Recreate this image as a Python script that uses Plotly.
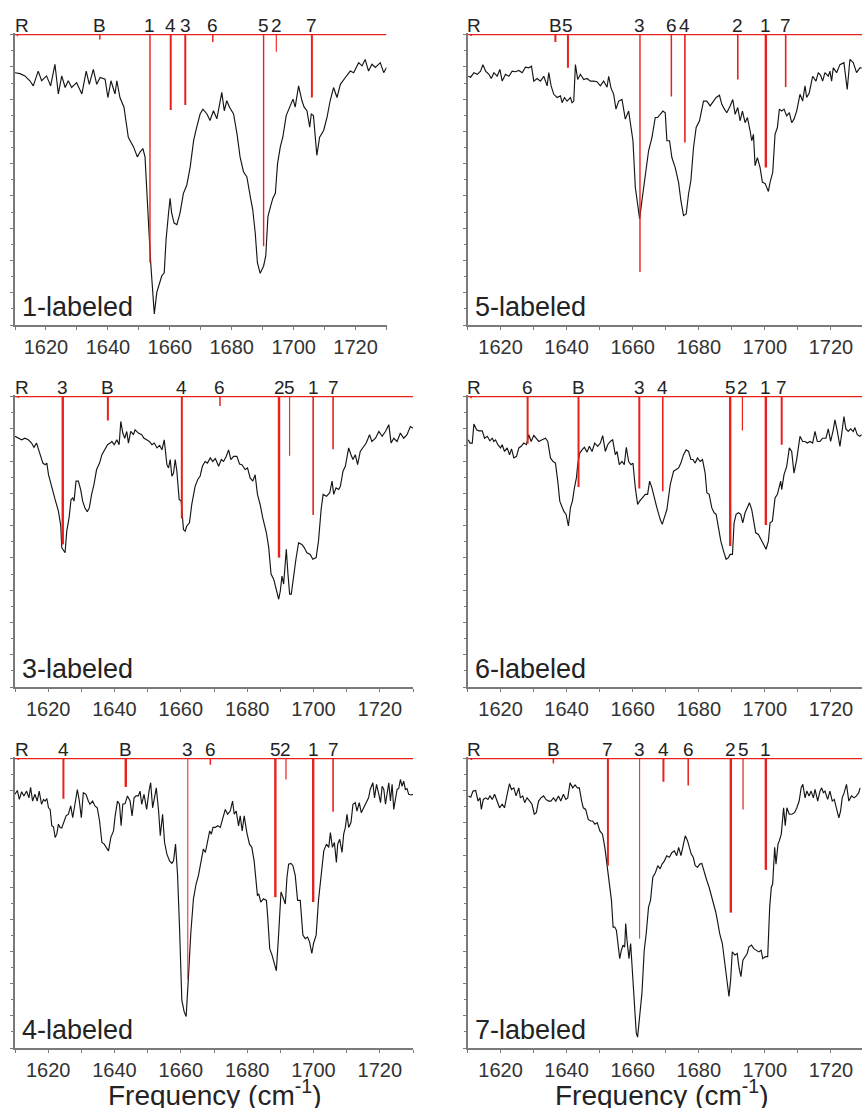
import plotly.graph_objects as go

# ---------------- data (frequency in cm-1, signal depth below the top baseline, a.u.) -------------
p1_freq = [1610.0,1611.6,1613.2,1614.8,1615.9,1617.5,1618.6,1620.2,1621.5,1622.9,
 1624.0,1625.1,1626.2,1627.2,1628.3,1629.9,1631.6,1633.0,1634.0,1635.3,
 1636.4,1637.5,1639.1,1640.0,1641.0,1642.3,1642.9,1643.9,1645.2,1646.6,
 1648.3,1649.5,1650.4,1651.3,1652.0,1652.6,1653.3,1653.9,1654.5,1655.0,
 1655.8,1656.7,1657.4,1658.2,1658.8,1659.6,1660.1,1660.6,1661.4,1662.3,
 1663.3,1664.4,1665.5,1666.6,1667.7,1668.7,1669.8,1670.7,1672.0,1673.0,
 1674.1,1675.2,1676.3,1676.8,1677.6,1678.4,1679.3,1680.0,1680.6,1681.7,
 1682.7,1683.8,1684.9,1686.0,1686.8,1687.6,1688.3,1689.2,1690.3,1691.0,
 1691.7,1692.4,1693.3,1694.1,1694.8,1695.7,1696.5,1697.6,1698.7,1699.8,
 1700.5,1701.6,1702.7,1703.4,1704.3,1705.2,1705.7,1706.4,1707.5,1708.4,
 1709.7,1710.8,1711.8,1712.9,1714.0,1715.1,1716.7,1718.3,1719.4,1721.0,
 1722.1,1723.1,1724.2,1725.3,1726.4,1728.0,1729.1,1730.0]
p1_signal = [1.18,1.21,1.28,1.43,1.59,1.13,1.43,1.28,1.59,0.92,
 1.84,1.28,1.64,1.43,1.64,1.49,1.84,1.13,1.54,1.08,
 1.54,1.33,1.38,1.95,1.43,1.84,1.43,1.95,2.25,3.18,
 3.48,3.79,3.64,3.53,3.79,4.71,6.15,7.17,8.20,8.66,
 7.99,7.68,7.48,7.38,6.35,5.53,5.07,5.53,5.84,5.89,
 5.53,4.92,4.66,4.10,3.28,2.87,2.46,2.31,2.46,2.66,
 2.36,2.61,2.05,1.79,2.36,2.05,2.25,2.36,2.46,3.07,
 3.79,4.25,4.41,5.02,5.43,6.15,7.07,7.40,7.17,6.86,
 5.64,5.38,5.07,4.92,4.00,3.48,3.18,2.51,2.25,2.00,
 2.25,1.59,2.05,2.25,2.36,2.87,2.46,2.51,3.74,3.18,
 2.97,2.56,2.05,1.64,1.95,1.54,1.33,1.13,1.18,0.87,
 0.97,0.77,1.13,0.92,1.02,0.87,1.18,1.02]
p1_stick_lbl = ["R", "B", "1", "4", "3", "6", "5", "2", "7"]
p1_stick_pos = [1610.8, 1637.4, 1653.6, 1660.3, 1665.0, 1673.9, 1690.3, 1694.4, 1705.9]
p1_stick_int = [0.05, 0.15, 7.07, 2.34, 2.18, 0.23, 6.56, 0.53, 1.95]

p2_freq = [1610.23,1610.94,1611.94,1612.95,1613.96,1614.66,1615.47,1616.48,1617.18,1617.99,
 1618.99,1619.80,1620.50,1621.51,1622.52,1623.52,1624.53,1625.54,1626.55,1627.55,
 1628.56,1629.37,1630.07,1631.08,1632.08,1633.09,1634.10,1634.60,1635.31,1636.11,
 1637.12,1638.13,1638.63,1639.34,1640.14,1641.15,1641.65,1642.16,1642.66,1643.36,
 1644.17,1645.18,1646.18,1647.19,1648.20,1649.20,1650.21,1651.22,1652.23,1652.73,
 1653.43,1654.24,1654.94,1655.75,1656.76,1657.76,1658.77,1659.27,1660.08,1660.79,
 1661.49,1662.09,1662.80,1663.81,1664.81,1665.82,1666.83,1667.53,1668.34,1669.14,
 1669.85,1670.35,1671.16,1671.86,1672.87,1673.88,1674.58,1675.39,1676.19,1676.90,
 1677.60,1678.41,1679.21,1680.22,1681.43,1682.44,1683.44,1684.25,1685.26,1686.26,
 1686.97,1687.77,1688.48,1689.49,1690.29,1691.00,1691.80,1692.51,1693.21,1694.02,
 1694.72,1695.53,1696.03,1696.54,1697.04,1697.74,1698.55,1699.26,1700.06,1701.07,
 1701.57,1702.38,1703.08,1703.79,1704.39,1705.10,1705.80,1706.61,1707.41,1708.12,
 1708.82,1709.63,1710.63,1711.44,1712.15,1712.65,1713.45,1714.46,1715.47,1716.17,
 1716.88,1717.48,1718.19,1719.19,1719.70,1720.20,1720.70,1721.71,1722.72,1723.93,
 1724.93,1725.74,1726.75,1727.75,1728.76,1729.27]
p2_signal = [1.29,1.32,1.18,1.23,1.13,0.93,1.13,1.23,1.36,1.18,
 1.29,1.08,1.44,1.23,1.29,1.13,1.15,1.11,1.18,1.01,
 1.03,0.98,1.44,1.36,1.44,1.29,1.59,1.18,1.59,1.85,
 1.95,1.90,2.11,1.95,2.06,1.95,2.11,2.06,0.93,1.39,
 1.23,1.39,1.36,1.44,1.44,1.46,1.59,1.44,1.63,1.29,
 1.65,1.85,2.31,2.06,2.01,2.62,2.37,2.67,3.29,4.73,
 5.35,5.71,5.14,4.42,3.60,3.19,2.57,2.57,2.47,2.37,
 2.42,3.29,3.29,3.81,4.12,4.58,5.14,5.61,5.56,4.94,
 4.53,3.50,2.88,2.67,2.06,2.06,2.21,2.11,1.95,1.88,
 2.16,2.31,2.42,2.21,2.01,2.47,2.26,2.67,2.37,2.73,
 2.57,2.98,3.29,3.09,4.06,3.81,4.12,4.58,4.61,4.86,
 4.58,4.27,3.09,2.88,2.31,2.37,2.31,2.52,2.42,2.73,
 2.62,2.37,1.85,2.06,1.59,1.95,1.80,1.29,1.44,1.18,
 1.26,1.44,1.18,1.29,1.13,1.44,1.03,1.18,0.93,0.87,
 1.70,0.77,0.87,1.18,1.03,1.03]
p2_stick_lbl = ["R", "B", "5", "3", "6", "4", "2", "1", "7"]
p2_stick_pos = [1611.1, 1636.6, 1640.4, 1662.2, 1671.7, 1675.8, 1691.8, 1700.3, 1706.3]
p2_stick_int = [0.04, 0.23, 1.03, 7.36, 1.92, 3.34, 1.39, 4.12, 1.62]

p3_freq = [1610.0,1611.0,1612.0,1613.0,1614.0,1615.0,1615.7,1616.5,1617.5,1618.4,
 1619.1,1619.6,1620.1,1621.1,1622.1,1623.1,1623.8,1624.1,1624.6,1625.1,
 1625.6,1626.3,1626.9,1627.4,1627.8,1628.4,1629.1,1629.8,1630.4,1631.1,
 1631.8,1632.4,1633.1,1633.8,1634.6,1635.5,1636.2,1636.7,1637.5,1637.9,
 1638.7,1639.2,1639.9,1640.7,1641.4,1641.9,1642.5,1643.1,1643.7,1644.2,
 1644.9,1645.7,1646.2,1647.2,1648.2,1648.9,1649.7,1650.5,1651.3,1652.0,
 1652.8,1653.6,1654.3,1655.0,1655.8,1656.3,1656.8,1657.3,1657.8,1658.3,
 1658.8,1659.5,1660.1,1660.8,1661.3,1661.8,1662.6,1663.3,1664.3,1665.1,
 1665.8,1666.5,1667.3,1668.0,1668.9,1669.6,1670.4,1671.4,1672.2,1672.9,
 1673.7,1674.4,1675.1,1675.9,1676.9,1677.7,1678.4,1679.4,1680.1,1680.9,
 1681.7,1682.4,1683.1,1683.9,1684.7,1685.8,1686.5,1687.2,1688.0,1688.8,
 1689.5,1690.0,1690.5,1691.0,1691.8,1692.3,1692.8,1693.3,1694.0,1694.7,
 1695.5,1696.5,1697.2,1698.0,1699.0,1699.8,1700.8,1701.5,1702.3,1702.9,
 1703.9,1704.9,1705.6,1706.1,1706.8,1707.6,1708.1,1708.9,1709.6,1710.6,
 1711.3,1711.9,1712.6,1713.3,1714.1,1714.9,1715.9,1716.9,1717.6,1718.7,
 1719.7,1720.7,1721.7,1722.7,1723.4,1724.2,1725.2,1726.2,1727.2,1728.2,
 1729.2,1730.0]
p3_signal = [1.23,1.29,1.34,1.29,1.34,1.44,1.57,1.44,1.75,2.06,
 2.11,2.06,2.42,2.83,3.19,3.55,4.01,4.68,4.78,4.84,
 4.17,3.76,3.19,3.14,3.24,2.62,2.62,2.88,3.24,3.45,
 3.57,3.45,3.03,2.73,2.26,2.06,1.80,1.70,1.59,1.49,
 1.44,1.39,1.49,1.34,1.49,0.77,1.13,1.29,1.08,1.44,
 1.08,1.18,1.03,1.13,1.18,1.29,1.34,1.39,1.49,1.44,
 1.59,1.51,1.65,1.34,2.11,2.21,1.95,2.47,2.37,1.95,
 2.31,3.19,3.24,4.12,4.17,4.01,3.91,3.34,2.78,2.57,
 2.47,2.16,2.01,2.06,1.90,2.01,1.92,2.16,1.95,2.01,
 1.85,1.65,1.95,1.85,1.85,2.09,2.11,2.26,2.21,2.52,
 2.62,2.42,3.03,3.34,3.76,4.22,4.68,5.50,5.66,5.97,
 6.28,6.02,5.56,5.81,4.73,5.50,6.12,6.12,5.50,5.04,
 4.53,4.58,4.68,4.84,4.89,5.04,4.99,4.48,3.50,3.03,
 3.09,2.98,2.62,3.03,2.83,2.88,2.78,2.31,2.16,1.59,
 1.80,1.95,1.80,2.11,1.70,1.59,1.44,1.18,1.39,1.29,
 1.08,1.23,1.08,0.87,1.44,1.29,1.39,1.13,1.29,1.18,
 0.93,0.98]
p3_stick_lbl = ["R", "3", "B", "4", "6", "2", "5", "1", "7"]
p3_stick_pos = [1611.0, 1624.4, 1638.0, 1660.3, 1671.8, 1689.6, 1692.8, 1699.9, 1705.9]
p3_stick_int = [0.04, 4.58, 0.74, 3.78, 0.29, 4.99, 1.83, 3.67, 1.63]

p4_freq = [1610.23,1610.74,1611.44,1611.94,1612.75,1613.45,1614.46,1615.17,1615.97,1616.78,
 1617.48,1617.99,1618.49,1619.19,1620.00,1620.50,1621.21,1622.01,1622.72,1623.32,
 1624.03,1624.83,1625.54,1626.24,1627.05,1627.85,1628.56,1629.26,1630.07,1630.88,
 1631.58,1632.59,1633.60,1634.30,1635.11,1635.91,1636.62,1637.32,1637.93,1638.53,
 1639.13,1639.84,1640.54,1641.15,1641.75,1642.36,1642.96,1643.36,1643.97,1644.67,
 1645.38,1646.18,1646.89,1647.69,1648.50,1649.41,1650.21,1650.92,1651.72,1652.43,
 1653.23,1653.94,1654.74,1655.25,1655.95,1656.76,1657.46,1658.07,1658.77,1659.48,
 1660.08,1660.79,1661.49,1662.09,1662.80,1663.81,1664.51,1665.12,1665.82,1666.53,
 1667.33,1668.34,1668.94,1669.55,1670.35,1671.36,1672.37,1673.17,1673.88,1674.58,
 1675.39,1676.19,1676.90,1677.60,1678.21,1678.91,1679.62,1680.42,1681.13,1681.93,
 1682.44,1683.14,1683.95,1684.65,1685.26,1685.96,1686.67,1687.47,1688.28,1688.98,
 1689.49,1690.19,1690.69,1691.30,1692.00,1692.71,1693.31,1694.02,1694.72,1695.33,
 1696.03,1696.54,1697.24,1698.05,1698.75,1699.56,1700.36,1701.07,1701.57,1702.28,
 1703.08,1703.79,1704.39,1704.79,1705.10,1705.80,1706.61,1707.41,1708.12,1708.82,
 1709.63,1710.63,1711.44,1712.15,1712.85,1713.65,1714.46,1715.17,1715.87,1716.68,
 1717.48,1718.49,1719.19,1719.90,1720.70,1721.21,1721.91,1722.72,1723.42,1723.93,
 1724.53,1725.24,1725.94,1726.75,1727.25,1727.96,1728.76,1729.27]
p4_signal = [1.34,1.44,1.44,0.85,1.03,1.06,1.06,1.29,1.23,1.37,
 1.29,1.39,1.34,1.49,1.59,1.49,1.70,1.59,1.80,1.62,
 1.90,1.85,1.59,1.54,1.44,1.49,1.18,1.39,1.20,1.29,
 1.39,1.34,1.29,1.39,1.90,2.01,2.06,2.62,3.24,3.40,
 3.55,3.65,4.01,3.45,3.24,2.83,2.52,2.11,1.75,1.65,
 1.57,1.72,1.54,1.70,1.44,1.54,1.44,1.21,1.70,1.49,
 1.39,1.34,1.80,1.70,2.11,2.01,2.11,1.57,2.01,2.11,
 2.06,2.83,3.34,3.24,3.14,3.03,3.03,2.62,2.83,3.14,
 3.45,3.81,3.96,3.76,3.50,2.73,2.31,2.26,2.21,2.06,
 1.80,1.65,1.70,1.95,1.95,2.06,1.90,2.01,1.95,2.37,
 2.98,3.03,3.45,3.60,3.65,4.06,4.48,4.78,5.04,4.99,
 4.89,4.89,3.91,3.65,3.60,3.65,3.91,3.60,3.45,3.29,
 3.50,3.76,4.22,4.27,4.42,4.58,4.73,4.48,3.91,3.86,
 3.14,3.03,2.73,2.62,2.88,2.42,2.16,1.59,1.70,2.37,
 1.95,1.23,1.39,1.39,1.44,1.39,1.44,1.08,1.39,1.39,
 1.29,1.29,1.00,1.39,1.03,0.72,1.06,1.54,1.03,0.62,
 1.00,1.08,1.00,1.08,0.96,1.18,1.23,1.18]
p4_stick_lbl = ["R", "6", "B", "3", "4", "5", "2", "1", "7"]
p4_stick_pos = [1611.1, 1628.2, 1643.6, 1662.0, 1669.1, 1689.5, 1693.2, 1700.3, 1705.1]
p4_stick_int = [0.05, 1.46, 2.80, 2.85, 2.93, 4.63, 1.05, 3.98, 1.49]

p5_freq = [1610.0,1610.7,1611.3,1612.0,1612.7,1613.5,1614.2,1614.7,1615.3,1616.0,
 1616.7,1617.3,1618.0,1618.6,1619.1,1619.6,1620.1,1620.6,1621.1,1621.6,
 1622.1,1622.6,1623.1,1623.6,1624.1,1624.8,1625.4,1626.1,1626.8,1627.4,
 1628.1,1628.8,1629.4,1630.0,1630.6,1631.4,1632.1,1632.6,1633.4,1634.1,
 1634.8,1635.5,1636.2,1636.9,1637.5,1638.2,1638.9,1639.7,1640.2,1640.9,
 1641.5,1642.0,1642.5,1643.2,1643.9,1644.7,1645.3,1645.9,1646.5,1647.2,
 1647.7,1648.2,1648.9,1649.7,1650.4,1650.9,1651.5,1652.1,1652.6,1653.3,
 1653.8,1654.5,1655.1,1655.8,1656.6,1657.3,1657.8,1658.4,1659.0,1659.6,
 1660.3,1661.0,1661.6,1662.3,1663.0,1663.8,1664.6,1665.3,1666.1,1666.8,
 1667.4,1668.0,1668.7,1669.2,1669.7,1670.4,1671.1,1671.9,1672.7,1673.4,
 1674.1,1674.9,1675.6,1676.1,1676.7,1677.4,1677.9,1678.5,1679.1,1679.9,
 1680.7,1681.4,1682.1,1682.7,1683.1,1683.5,1684.1,1684.9,1685.8,1686.2,
 1686.8,1687.5,1688.2,1688.8,1689.5,1690.2,1690.8,1691.5,1692.0,1692.5,
 1693.2,1693.8,1694.5,1695.2,1696.0,1696.8,1697.5,1698.2,1698.8,1699.5,
 1700.0,1700.8,1701.5,1702.2,1703.1,1703.9,1704.6,1705.1,1705.7,1706.3,
 1706.9,1707.3,1707.9,1708.6,1709.1,1709.6,1710.1,1710.6,1711.3,1711.9,
 1712.6,1713.1,1713.8,1714.4,1715.1,1715.9,1716.6,1717.1,1717.9,1718.4,
 1719.0,1719.7,1720.2,1720.7,1721.2,1721.7,1722.2,1722.7,1723.2,1723.7,
 1724.2,1724.7,1725.2,1725.7,1726.2,1726.7,1727.2,1727.7,1728.2,1728.7,
 1729.4,1730.0]
p5_signal = [1.11,0.99,1.27,1.03,1.16,1.01,1.22,0.89,1.32,1.11,
 1.32,1.01,1.42,1.27,1.32,1.24,1.53,1.58,2.09,2.12,
 2.45,2.35,2.04,2.14,2.16,1.94,1.78,1.73,1.47,1.84,
 1.42,0.96,1.32,1.84,1.06,1.11,1.32,1.42,1.32,1.47,
 1.53,1.94,2.61,2.66,2.76,2.87,2.45,2.25,1.78,1.32,
 1.42,2.09,1.42,1.40,1.16,1.32,1.78,1.22,1.16,1.16,
 1.01,1.42,1.11,1.58,1.01,0.75,1.53,1.22,0.91,1.63,
 2.40,1.73,2.61,2.97,3.18,3.26,3.18,2.66,3.59,5.24,
 7.51,7.87,8.02,6.78,5.44,4.36,3.90,3.64,3.18,2.81,
 2.92,2.56,2.25,2.35,2.14,2.14,2.09,2.14,1.84,1.58,
 1.73,1.63,1.32,1.73,1.63,2.09,1.78,2.25,1.78,2.30,
 2.66,2.76,3.18,3.90,4.26,4.21,4.46,4.36,4.41,4.93,
 5.91,6.11,6.37,6.60,5.44,4.15,4.31,4.52,3.69,3.28,
 3.26,3.33,3.64,4.41,4.41,5.49,5.60,5.55,5.70,6.06,
 5.75,5.49,4.41,3.79,2.87,2.66,2.76,2.30,2.76,2.61,
 3.23,2.66,2.51,2.92,2.35,2.14,1.73,2.14,1.99,1.42,
 1.37,1.63,1.37,1.68,1.53,1.32,1.22,0.96,0.75,1.22,
 0.80,1.11,1.37,0.86,0.96,1.42,1.01,0.75,1.32,0.80,
 1.58,1.27,0.96,0.93,0.65,0.86,0.70,0.96,0.93,1.11,
 1.13,1.11]
p5_stick_lbl = ["R", "4", "B", "3", "6", "5", "2", "1", "7"]
p5_stick_pos = [1611.0, 1624.6, 1643.4, 1662.1, 1668.9, 1688.5, 1691.7, 1699.9, 1705.9]
p5_stick_int = [0.04, 1.25, 0.88, 6.87, 0.19, 4.31, 0.65, 4.46, 1.65]

p6_freq = [1610.28,1610.98,1611.68,1612.48,1613.19,1613.79,1614.19,1614.79,1615.49,1616.19,
 1616.79,1617.49,1618.20,1619.00,1619.70,1620.50,1621.20,1622.00,1622.71,1623.31,
 1624.01,1624.71,1625.51,1626.01,1626.71,1627.31,1628.02,1628.82,1629.52,1630.22,
 1630.82,1631.52,1632.22,1633.03,1633.73,1634.53,1635.23,1636.03,1636.73,1637.54,
 1638.24,1639.04,1639.74,1640.34,1641.04,1641.84,1642.55,1643.25,1643.85,1644.55,
 1645.05,1645.75,1646.55,1647.25,1647.86,1648.56,1649.26,1650.06,1650.86,1651.56,
 1652.06,1652.57,1653.07,1653.57,1654.07,1654.57,1655.07,1655.57,1656.07,1656.57,
 1657.07,1657.58,1657.88,1658.28,1658.88,1659.38,1659.88,1660.58,1661.08,1661.48,
 1662.08,1662.79,1663.49,1664.09,1664.79,1665.39,1666.09,1666.89,1667.60,1668.30,
 1668.90,1669.60,1670.30,1671.10,1671.90,1672.61,1673.31,1673.91,1674.61,1675.31,
 1675.91,1676.61,1677.11,1677.72,1678.32,1678.92,1679.62,1680.32,1680.92,1681.62,
 1682.42,1683.13,1683.93,1684.63,1685.13,1685.63,1686.33,1687.13,1687.64,1688.14,
 1688.64,1689.14,1689.64,1690.14,1690.94,1691.64,1692.14,1692.75,1693.35,1693.95,
 1694.65,1695.15,1695.95,1696.65,1697.35,1698.16,1698.86,1699.36,1700.16,1700.86,
 1701.46,1701.96,1702.36,1702.97,1703.37,1703.97,1704.37,1704.97,1705.67,1706.17,
 1706.67,1707.37,1708.18,1708.98,1709.68,1710.38,1710.98,1711.48,1712.18,1712.69,
 1713.39,1713.99,1714.69,1715.19,1715.99,1716.69,1717.19,1717.70,1718.20,1719.00,
 1719.70,1720.40,1721.00,1721.70,1722.40,1722.91,1723.41,1724.01,1724.71,1725.41,
 1726.21,1727.01,1727.72,1728.42,1728.82]
p6_signal = [1.16,1.20,1.01,0.99,1.32,1.22,1.58,1.27,1.22,1.27,
 1.16,1.27,1.11,1.32,1.53,1.42,1.53,1.11,0.78,0.96,
 0.91,1.16,0.91,1.22,1.16,1.37,1.22,1.32,1.42,1.73,
 1.68,1.32,1.22,1.16,1.27,1.32,1.32,1.22,1.32,1.16,
 1.32,1.11,1.27,1.22,0.75,0.91,0.82,0.91,0.91,1.32,
 1.53,1.58,1.89,1.94,1.94,2.04,1.99,2.25,2.35,2.76,
 3.18,3.48,4.00,4.41,5.24,5.24,5.34,5.75,6.22,5.96,
 5.80,5.86,5.13,5.65,6.22,5.75,6.58,8.02,8.54,8.66,
 8.12,7.30,5.96,5.44,4.62,4.41,3.69,3.54,3.33,3.43,
 3.28,3.18,3.02,3.07,2.92,2.87,3.02,2.76,3.02,2.66,
 2.40,2.56,2.76,2.97,3.07,3.33,3.38,3.28,3.26,3.54,
 3.79,4.00,4.31,4.52,4.77,5.03,5.44,5.75,6.22,6.68,
 6.99,7.40,6.89,6.01,6.11,6.06,6.47,6.78,6.27,6.16,
 6.06,5.86,5.80,5.91,5.96,6.01,5.96,6.22,6.16,6.16,
 4.62,4.00,3.90,2.76,3.28,2.66,2.56,2.35,1.53,2.09,
 1.53,1.73,1.73,1.68,1.53,1.32,0.91,0.80,1.22,1.01,
 1.16,1.01,1.22,0.96,1.32,1.01,0.91,1.06,1.01,1.27,
 1.01,1.32,1.27,1.53,1.84,1.63,1.22,1.06,0.80,1.32,
 1.16,1.22,1.16,1.06,0.91]
p6_stick_lbl = ["R", "B", "7", "3", "4", "6", "2", "5", "1"]
p6_stick_pos = [1611.2, 1636.0, 1652.5, 1662.1, 1669.3, 1676.8, 1689.7, 1693.4, 1700.3]
p6_stick_int = [0.04, 0.15, 3.33, 5.60, 0.72, 0.84, 4.79, 1.58, 3.46]

panel_titles = ["1-labeled", "5-labeled", "3-labeled", "6-labeled", "4-labeled", "7-labeled"]
x_tick_vals = [1620, 1640, 1660, 1680, 1700, 1720]
x_title = "Frequency (cm<sup>-1</sup>)"

# ---------------- style / layout ----------------
W, H = 862, 1108
RED = "#e8211d"
AXC = "#7a7a7a"
TXT = "#232323"
FONT = "Liberation Sans, Arial, Helvetica, sans-serif"

# stick line widths (style only)
stick_w = [
    [1.5, 1.5, 1.4, 2.0, 2.0, 1.5, 1.4, 1.1, 2.0],
    [1.5, 2.0, 2.0, 1.4, 1.5, 1.6, 1.6, 2.4, 1.6],
    [1.5, 2.4, 2.0, 2.0, 1.5, 2.4, 1.1, 1.6, 1.6],
    [1.5, 2.0, 2.0, 2.0, 1.6, 2.4, 1.2, 2.4, 2.0],
    [1.5, 2.0, 2.4, 1.0, 1.5, 2.4, 1.2, 2.4, 1.6],
    [1.5, 1.5, 2.0, 1.0, 2.0, 1.5, 2.4, 1.2, 2.4],
]

panels = [
    (p1_freq, p1_signal, p1_stick_lbl, p1_stick_pos, p1_stick_int),
    (p2_freq, p2_signal, p2_stick_lbl, p2_stick_pos, p2_stick_int),
    (p3_freq, p3_signal, p3_stick_lbl, p3_stick_pos, p3_stick_int),
    (p4_freq, p4_signal, p4_stick_lbl, p4_stick_pos, p4_stick_int),
    (p5_freq, p5_signal, p5_stick_lbl, p5_stick_pos, p5_stick_int),
    (p6_freq, p6_signal, p6_stick_lbl, p6_stick_pos, p6_stick_int),
]

row_px = [(33, 325), (395, 687), (757, 1048)]
col_px = {  # (row, col) -> (left, right) in pixels
    (0, 0): (15, 386.5), (1, 0): (15, 413), (2, 0): (15, 413),
    (0, 1): (467.5, 862), (1, 1): (467.5, 862), (2, 1): (467.5, 862),
}
x_range = {0: [1610, 1730], 1: [1610, 1729.4]}
y_range = [9.0, -0.05]

fig = go.Figure()
layout = dict(width=W, height=H, margin=dict(l=0, r=0, t=0, b=0),
              paper_bgcolor="white", plot_bgcolor="white", showlegend=False,
              font=dict(family=FONT, color=TXT))
annotations = []

for i, (freq, sig, lbls, pos, inten) in enumerate(panels):
    r, c = divmod(i, 2)
    n = i + 1
    xa, ya = ("x", "y") if n == 1 else (f"x{n}", f"y{n}")
    xl, xr = col_px[(r, c)]
    yt, yb = row_px[r]
    xdom = [xl / W, xr / W]
    ydom = [1 - yb / H, 1 - yt / H]
    xrng = x_range[c]

    fig.add_trace(go.Scatter(x=freq, y=sig, mode="lines", xaxis=xa, yaxis=ya,
                             line=dict(color="#151515", width=1.15), hoverinfo="skip"))
    # red baseline at zero intensity
    fig.add_trace(go.Scatter(x=xrng, y=[0, 0], mode="lines", xaxis=xa, yaxis=ya,
                             line=dict(color=RED, width=1.2), hoverinfo="skip"))
    for k, (lb, p, v) in enumerate(zip(lbls, pos, inten)):
        fig.add_trace(go.Scatter(x=[p, p], y=[0, v], mode="lines", xaxis=xa, yaxis=ya,
                                 line=dict(color=RED, width=stick_w[i][k]), hoverinfo="skip"))
        if lb == "R":
            annotations.append(dict(x=xrng[0], y=0, xref=xa, yref=ya, text=lb, showarrow=False,
                                    xanchor="left", yanchor="bottom", xshift=-2, yshift=-3,
                                    font=dict(size=19, color=TXT, family=FONT)))
        else:
            annotations.append(dict(x=p, y=0, xref=xa, yref=ya, text=lb, showarrow=False,
                                    xanchor="center", yanchor="bottom", yshift=-3,
                                    font=dict(size=19, color=TXT, family=FONT)))
    annotations.append(dict(x=xdom[0] + 5 / W, y=ydom[0], xref="paper", yref="paper",
                            text=panel_titles[i], showarrow=False, xanchor="left",
                            yanchor="bottom", yshift=1, font=dict(size=27, color=TXT, family=FONT)))

    layout["xaxis" if n == 1 else f"xaxis{n}"] = dict(
        domain=xdom, range=xrng, anchor=ya, showline=True, linecolor=AXC, linewidth=1.5,
        ticks="outside", ticklen=3, tickwidth=1, tickcolor=AXC,
        tickmode="array", tickvals=x_tick_vals,
        minor=dict(dtick=10, tick0=1610, ticks="outside", ticklen=3, tickcolor=AXC, tickwidth=1),
        tickfont=dict(size=20, color="#333333", family=FONT),
        showgrid=False, zeroline=False, fixedrange=True)
    layout["yaxis" if n == 1 else f"yaxis{n}"] = dict(
        domain=ydom, range=y_range, anchor=xa, showline=True, linecolor=AXC, linewidth=1.5,
        ticks="outside", ticklen=3, tickwidth=1, tickcolor=AXC, tick0=0, dtick=1,
        minor=dict(dtick=0.5, tick0=0, ticks="outside", ticklen=2, tickcolor=AXC, tickwidth=1),
        showticklabels=False, showgrid=False, zeroline=False, fixedrange=True)

for xc in (214 / W, 661 / W):
    annotations.append(dict(x=xc, y=1 - 1108 / H, xref="paper", yref="paper", text=x_title,
                            showarrow=False, xanchor="center", yanchor="bottom", yshift=-5,
                            font=dict(size=28, color=TXT, family=FONT)))

layout["annotations"] = annotations
fig.update_layout(**layout)
fig.write_html("out.html", config={"displayModeBar": False},
               post_script="document.body.style.margin='0px';document.body.style.overflow='hidden';")
